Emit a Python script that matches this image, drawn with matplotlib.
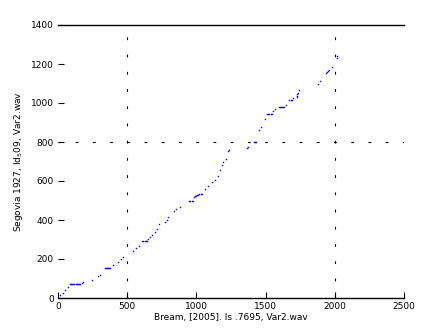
import matplotlib
matplotlib.use('Agg')
import matplotlib.pyplot as plt

# alignment path points
x_vals = [2, 14, 34, 51, 75,
          87, 95, 103, 111, 119, 127, 135, 143, 151, 159,
          171, 183, 243, 291, 303,
          340, 348, 356, 364, 372, 376,
          400, 431, 453, 467, 544, 564, 588,
          609, 617, 625, 633, 641,
          652, 665, 681, 701, 713, 730, 773, 785, 797, 838, 850, 882,
          949, 957, 965, 973,
          983, 990, 998, 1006, 1014, 1022, 1030, 1038,
          1062, 1086, 1115, 1134, 1153, 1171, 1187, 1189, 1212, 1231, 1233,
          1368, 1375, 1416, 1424, 1431, 1454, 1467, 1498,
          1512, 1520, 1528, 1536, 1543, 1556, 1568,
          1595, 1603, 1611, 1619, 1627, 1631, 1647,
          1672, 1680, 1689, 1701, 1727, 1727, 1727, 1734, 1742,
          1881, 1893, 1934, 1946, 1953, 1960, 1977, 2014, 2019]
y_vals = [7, 15, 27, 41, 58,
          70, 70, 70, 70, 70, 70, 70, 70, 70, 70,
          75, 80, 92, 113, 118,
          152, 152, 152, 152, 152, 152,
          169, 185, 198, 209, 241, 255, 268,
          292, 292, 292, 292, 292,
          301, 311, 323, 340, 352, 379, 391, 400, 417, 446, 458, 468,
          496, 496, 496, 496,
          520, 523, 525, 527, 529, 531, 532, 533,
          557, 576, 597, 605, 626, 656, 682, 697, 713, 752, 759,
          771, 776, 798, 798, 798, 862, 879, 916,
          942, 942, 942, 942, 942, 959, 968,
          982, 982, 982, 982, 982, 982, 988,
          1015, 1015, 1015, 1024, 1031, 1038, 1045, 1051, 1067,
          1098, 1113, 1153, 1160, 1164, 1168, 1183, 1229, 1239]

x_ticks = [0, 500, 1000, 1500, 2000, 2500]
y_ticks = [0, 200, 400, 600, 800, 1000, 1200, 1400]
x_guides = [500, 2000]
y_guides = [800]

fig = plt.figure(figsize=(4.47, 3.35), dpi=100)
ax = fig.add_axes([58 / 447, 37 / 335, 346 / 447, 273 / 335])

ax.plot(x_vals, y_vals, linestyle='none', marker='s', markersize=1.0,
        markeredgewidth=0, color='#0000ff')

# sparse dotted guide lines like the old matlab ':' style
guide_style = (0, (2.5, 13))
for gx in x_guides:
    ax.axvline(gx, color='black', linestyle=guide_style, linewidth=0.8)
for gy in y_guides:
    ax.axhline(gy, color='black', linestyle=guide_style, linewidth=0.8)

ax.set_xlim(0, 2500)
ax.set_ylim(0, 1400)
ax.set_xticks(x_ticks)
ax.set_yticks(y_ticks)
ax.tick_params(direction='in', length=4, width=0.8, labelsize=6.5, pad=3)

ax.spines['left'].set_visible(False)
ax.spines['right'].set_visible(False)
ax.spines['top'].set_linewidth(1.0)
ax.spines['bottom'].set_linewidth(1.0)

ax.set_xlabel('Bream, [2005]. ls .7695, Var2.wav', fontsize=6.5, labelpad=1)
ax.set_ylabel('Segovia 1927, Id$_{5}$09, Var2.wav', fontsize=6.5, labelpad=4)

fig.savefig('out.png', dpi=100)
